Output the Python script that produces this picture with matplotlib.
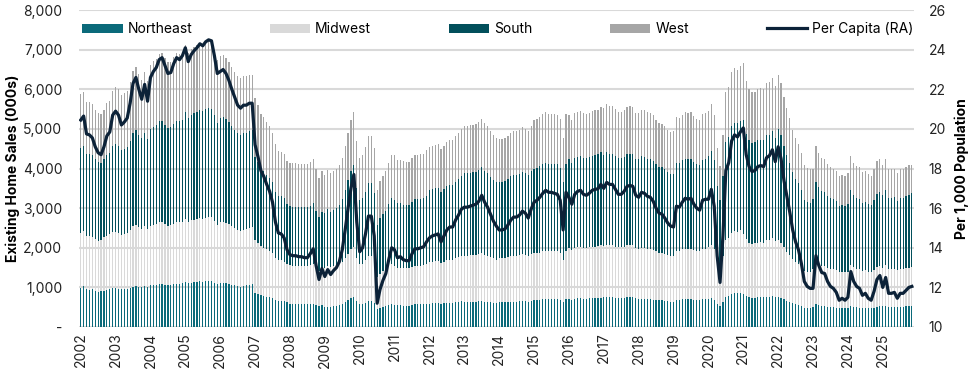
import numpy as np
import matplotlib
matplotlib.use("Agg")
import matplotlib.pyplot as plt
from matplotlib.ticker import FuncFormatter

plt.rcParams['font.family'] = ['Inter', 'DejaVu Sans']

# monthly existing home sales by region (SAAR, 000s), Jan 2002 - Nov 2025
northeast = [
    990, 1030, 950, 940, 950, 910, 880, 900, 910, 930, 950, 990,
    980, 960, 950, 960, 970, 990, 1020, 1040, 1020, 1010, 1030, 1010,
    1050, 1060, 1070, 1090, 1090, 1070, 1060, 1060, 1080, 1090, 1090, 1100,
    1140, 1110, 1120, 1130, 1140, 1150, 1140, 1150, 1160, 1160, 1120, 1080,
    1100, 1110, 1100, 1090, 1070, 1050, 1030, 1020, 1030, 1050, 1070, 1090,
    860, 830, 800, 780, 770, 750, 730, 680, 660, 660, 650, 620,
    580, 580, 580, 580, 580, 570, 570, 580, 590, 560, 530, 550,
    500, 510, 500, 520, 530, 550, 580, 630, 680, 730, 760, 650,
    580, 580, 610, 650, 650, 610, 450, 490, 510, 530, 560, 580,
    560, 550, 550, 540, 540, 540, 560, 570, 570, 570, 570, 580,
    590, 600, 600, 600, 580, 600, 610, 610, 610, 630, 640, 650,
    630, 630, 640, 640, 640, 650, 660, 640, 630, 620, 610, 600,
    620, 620, 620, 630, 640, 640, 640, 650, 660, 650, 640, 660,
    680, 680, 690, 700, 700, 700, 700, 700, 700, 680, 620, 700,
    710, 690, 710, 720, 720, 710, 710, 720, 720, 720, 730, 740,
    750, 760, 750, 750, 740, 730, 730, 740, 750, 750, 750, 730,
    700, 710, 710, 700, 700, 690, 680, 670, 670, 660, 650, 640,
    640, 690, 690, 700, 700, 700, 700, 690, 680, 680, 700, 700,
    710, 730, 690, 590, 530, 630, 770, 790, 840, 850, 850, 860,
    830, 780, 750, 740, 740, 750, 750, 750, 770, 770, 790, 760,
    760, 740, 700, 660, 630, 600, 570, 560, 530, 490, 480, 480,
    500, 570, 550, 530, 530, 510, 500, 500, 490, 470, 480, 470,
    470, 530, 510, 500, 490, 480, 480, 470, 470, 490, 510, 520,
    520, 540, 510, 510, 510, 500, 510, 510, 520, 520, 530,
]
midwest = [
    1390, 1390, 1350, 1360, 1330, 1300, 1300, 1300, 1350, 1370, 1400, 1410,
    1420, 1410, 1380, 1390, 1400, 1450, 1520, 1540, 1500, 1470, 1520, 1460,
    1490, 1510, 1520, 1550, 1550, 1530, 1500, 1510, 1530, 1550, 1550, 1560,
    1590, 1540, 1570, 1580, 1590, 1600, 1590, 1610, 1610, 1610, 1560, 1500,
    1540, 1540, 1530, 1510, 1480, 1450, 1420, 1410, 1420, 1420, 1430, 1430,
    1330, 1290, 1240, 1220, 1190, 1170, 1130, 1060, 1020, 1020, 1000, 960,
    980, 970, 970, 970, 970, 970, 970, 980, 1000, 940, 890, 930,
    1000, 1030, 1010, 1020, 1030, 1040, 1070, 1120, 1170, 1230, 1250, 1080,
    1000, 1020, 1070, 1140, 1140, 1060, 810, 860, 900, 920, 970, 1020,
    970, 950, 950, 940, 940, 940, 960, 980, 980, 980, 990, 1000,
    1050, 1050, 1060, 1060, 1030, 1050, 1080, 1090, 1090, 1110, 1130, 1150,
    1170, 1170, 1170, 1180, 1180, 1190, 1210, 1180, 1170, 1140, 1120, 1100,
    1110, 1110, 1120, 1130, 1150, 1160, 1160, 1170, 1190, 1180, 1160, 1190,
    1180, 1180, 1190, 1210, 1220, 1210, 1210, 1210, 1210, 1180, 1080, 1210,
    1280, 1250, 1290, 1300, 1310, 1290, 1290, 1300, 1310, 1310, 1320, 1330,
    1300, 1320, 1310, 1310, 1290, 1280, 1280, 1290, 1310, 1310, 1310, 1270,
    1270, 1290, 1290, 1270, 1270, 1250, 1230, 1210, 1210, 1190, 1170, 1160,
    1160, 1240, 1240, 1260, 1270, 1270, 1270, 1250, 1230, 1230, 1260, 1270,
    1310, 1350, 1280, 1080, 970, 1160, 1420, 1460, 1540, 1570, 1560, 1580,
    1530, 1430, 1380, 1360, 1370, 1380, 1390, 1380, 1420, 1420, 1450, 1400,
    1430, 1390, 1310, 1240, 1190, 1120, 1070, 1040, 990, 920, 900, 900,
    960, 1090, 1050, 1020, 1020, 990, 970, 960, 950, 910, 920, 910,
    930, 1030, 1000, 970, 970, 940, 950, 930, 920, 960, 1000, 1020,
    980, 1020, 960, 960, 960, 930, 960, 960, 970, 980, 990,
]
south = [
    2150, 2150, 2070, 2070, 2050, 2020, 1990, 1940, 1970, 2050, 2050, 2180,
    2210, 2190, 2140, 2150, 2180, 2260, 2360, 2390, 2330, 2280, 2350, 2270,
    2450, 2480, 2500, 2550, 2560, 2510, 2470, 2480, 2520, 2560, 2550, 2570,
    2710, 2630, 2670, 2690, 2710, 2730, 2720, 2740, 2750, 2740, 2660, 2560,
    2630, 2640, 2620, 2580, 2530, 2480, 2440, 2420, 2440, 2440, 2450, 2450,
    2110, 2040, 1970, 1930, 1890, 1850, 1790, 1680, 1620, 1620, 1600, 1530,
    1490, 1490, 1490, 1480, 1480, 1480, 1480, 1500, 1530, 1430, 1360, 1420,
    1390, 1430, 1400, 1420, 1450, 1490, 1570, 1700, 1850, 1980, 2070, 1790,
    1620, 1650, 1730, 1840, 1840, 1720, 1310, 1400, 1450, 1490, 1570, 1650,
    1670, 1620, 1620, 1610, 1600, 1600, 1640, 1670, 1670, 1680, 1690, 1720,
    1820, 1830, 1840, 1840, 1800, 1830, 1870, 1890, 1890, 1930, 1960, 2000,
    2080, 2080, 2090, 2100, 2100, 2120, 2160, 2110, 2080, 2030, 1990, 1960,
    1940, 1940, 1950, 1980, 2010, 2030, 2030, 2040, 2070, 2050, 2030, 2080,
    2140, 2160, 2180, 2200, 2220, 2210, 2210, 2200, 2200, 2160, 1960, 2210,
    2250, 2200, 2270, 2280, 2290, 2270, 2260, 2270, 2290, 2300, 2310, 2340,
    2290, 2330, 2320, 2320, 2290, 2250, 2250, 2270, 2310, 2320, 2310, 2250,
    2270, 2310, 2300, 2280, 2270, 2240, 2200, 2160, 2150, 2130, 2090, 2070,
    2070, 2220, 2210, 2250, 2280, 2270, 2280, 2230, 2210, 2190, 2260, 2270,
    2290, 2360, 2240, 1890, 1710, 2030, 2490, 2550, 2700, 2740, 2730, 2760,
    2860, 2670, 2580, 2550, 2550, 2580, 2590, 2580, 2650, 2660, 2700, 2620,
    2800, 2710, 2550, 2430, 2320, 2190, 2100, 2040, 1940, 1800, 1770, 1750,
    1760, 2010, 1930, 1880, 1870, 1810, 1780, 1760, 1730, 1670, 1690, 1670,
    1710, 1900, 1830, 1790, 1770, 1720, 1730, 1700, 1680, 1750, 1840, 1870,
    1830, 1910, 1790, 1790, 1800, 1750, 1790, 1790, 1810, 1840, 1860,
]
west = [
    1350, 1370, 1310, 1300, 1290, 1260, 1240, 1240, 1260, 1300, 1310, 1370,
    1450, 1450, 1390, 1400, 1410, 1480, 1570, 1590, 1530, 1480, 1550, 1470,
    1630, 1660, 1670, 1690, 1710, 1680, 1650, 1640, 1690, 1710, 1690, 1710,
    1680, 1630, 1660, 1680, 1680, 1700, 1700, 1710, 1720, 1710, 1660, 1600,
    1560, 1570, 1550, 1520, 1480, 1470, 1440, 1430, 1440, 1420, 1410, 1390,
    1480, 1440, 1380, 1370, 1330, 1310, 1260, 1190, 1140, 1130, 1120, 1080,
    1100, 1100, 1100, 1090, 1090, 1090, 1090, 1110, 1120, 1050, 990, 1040,
    960, 990, 970, 980, 980, 1000, 1040, 1120, 1210, 1280, 1350, 1170,
    1070, 1080, 1140, 1200, 1200, 1130, 890, 930, 960, 990, 1040, 1080,
    1130, 1090, 1100, 1090, 1080, 1080, 1110, 1130, 1130, 1130, 1130, 1160,
    1090, 1100, 1100, 1110, 1080, 1100, 1120, 1130, 1130, 1160, 1180, 1210,
    1190, 1190, 1190, 1190, 1200, 1210, 1230, 1220, 1190, 1170, 1130, 1110,
    1070, 1070, 1070, 1080, 1100, 1120, 1120, 1120, 1130, 1130, 1110, 1150,
    1230, 1240, 1250, 1260, 1280, 1270, 1270, 1260, 1250, 1240, 1120, 1270,
    1110, 1090, 1130, 1140, 1140, 1130, 1120, 1120, 1140, 1150, 1130, 1150,
    1190, 1210, 1210, 1210, 1190, 1170, 1170, 1180, 1190, 1200, 1190, 1160,
    1170, 1180, 1170, 1170, 1170, 1160, 1120, 1110, 1100, 1090, 1070, 1060,
    1070, 1140, 1130, 1140, 1170, 1160, 1170, 1150, 1130, 1120, 1160, 1160,
    1140, 1180, 1130, 950, 850, 1020, 1250, 1270, 1350, 1370, 1360, 1380,
    1440, 1330, 1300, 1280, 1280, 1300, 1300, 1300, 1320, 1340, 1350, 1310,
    1380, 1330, 1240, 1200, 1130, 1060, 1030, 990, 940, 890, 870, 850,
    780, 890, 860, 840, 830, 810, 790, 780, 770, 750, 750, 750,
    770, 850, 810, 800, 800, 770, 780, 760, 750, 780, 830, 840,
    750, 780, 720, 720, 730, 710, 720, 720, 730, 740, 720,
]
# sales per 1,000 population (right axis)
per_capita = [
    20.45, 20.65, 19.75, 19.7, 19.55, 19.1, 18.8, 18.7, 19.1, 19.65, 19.85, 20.7,
    20.9, 20.7, 20.2, 20.35, 20.55, 21.3, 22.3, 22.6, 22.0, 21.5, 22.25, 21.4,
    22.6, 22.9, 23.1, 23.5, 23.6, 23.2, 22.8, 22.85, 23.3, 23.6, 23.5, 23.7,
    24.1, 23.4, 23.75, 23.95, 24.1, 24.3, 24.2, 24.4, 24.5, 24.45, 23.7, 22.8,
    22.9, 23.0, 22.8, 22.45, 22.0, 21.6, 21.2, 21.05, 21.2, 21.2, 21.3, 21.3,
    19.2, 18.6, 17.9, 17.6, 17.2, 16.85, 16.3, 15.3, 14.75, 14.7, 14.5, 13.9,
    13.65, 13.6, 13.6, 13.55, 13.55, 13.5, 13.5, 13.7, 13.95, 13.1, 12.4, 12.95,
    12.55, 12.9, 12.65, 12.85, 13.0, 13.3, 13.9, 14.9, 16.0, 17.0, 17.7, 15.3,
    13.8, 14.0, 14.7, 15.6, 15.6, 14.6, 11.2, 11.9, 12.35, 12.7, 13.4, 14.0,
    13.9, 13.5, 13.55, 13.4, 13.35, 13.35, 13.7, 13.95, 13.95, 14.0, 14.05, 14.3,
    14.5, 14.6, 14.65, 14.7, 14.3, 14.6, 14.9, 15.05, 15.05, 15.4, 15.65, 15.95,
    16.05, 16.05, 16.1, 16.15, 16.2, 16.35, 16.65, 16.3, 16.05, 15.7, 15.35, 15.1,
    14.9, 14.9, 14.95, 15.15, 15.4, 15.55, 15.55, 15.65, 15.85, 15.75, 15.5, 15.95,
    16.3, 16.4, 16.55, 16.75, 16.9, 16.8, 16.8, 16.75, 16.7, 16.4, 14.9, 16.8,
    16.55, 16.2, 16.7, 16.85, 16.9, 16.7, 16.65, 16.75, 16.9, 16.95, 16.98, 17.2,
    17.0, 17.3, 17.2, 17.2, 16.95, 16.7, 16.7, 16.85, 17.1, 17.15, 17.1, 16.65,
    16.55, 16.8, 16.75, 16.6, 16.55, 16.35, 16.0, 15.75, 15.7, 15.5, 15.25, 15.1,
    15.05, 16.1, 16.05, 16.3, 16.5, 16.45, 16.5, 16.2, 16.0, 15.9, 16.4, 16.45,
    16.45, 16.95, 16.1, 13.6, 12.25, 14.6, 17.9, 18.3, 19.4, 19.7, 19.6, 19.85,
    20.05, 18.7, 18.1, 17.85, 17.9, 18.1, 18.15, 18.1, 18.55, 18.65, 18.95, 18.35,
    19.1, 18.5, 17.4, 16.6, 15.8, 14.9, 14.3, 13.9, 13.2, 12.3, 12.05, 11.95,
    11.95, 13.6, 13.1, 12.75, 12.7, 12.3, 12.05, 11.95, 11.75, 11.35, 11.45, 11.35,
    11.5, 12.8, 12.3, 12.05, 11.95, 11.6, 11.7, 11.45, 11.35, 11.8, 12.4, 12.6,
    12.0, 12.5, 11.7, 11.7, 11.75, 11.45, 11.7, 11.7, 11.85, 12.0, 12.05,
]
years = ['2002', '2003', '2004', '2005', '2006', '2007', '2008', '2009', '2010',
         '2011', '2012', '2013', '2014', '2015', '2016', '2017', '2018', '2019',
         '2020', '2021', '2022', '2023', '2024', '2025']

c_ne = '#0b6a7a'
c_mw = '#d9d9d9'
c_s = '#024f5b'
c_w = '#a6a6a6'
c_line = '#0c2238'

x = np.arange(len(northeast))
ne = np.array(northeast)
mw = np.array(midwest)
so = np.array(south)
we = np.array(west)

fig = plt.figure(figsize=(9.75, 3.75), dpi=100)
ax = fig.add_axes([0.081, 0.128, 0.856, 0.845])

w = 0.42
ax.bar(x, ne, width=w, color=c_ne, label='Northeast', linewidth=0)
ax.bar(x, mw, width=w, bottom=ne, color=c_mw, label='Midwest', linewidth=0)
ax.bar(x, so, width=w, bottom=ne + mw, color=c_s, label='South', linewidth=0)
ax.bar(x, we, width=w, bottom=ne + mw + so, color=c_w, label='West', linewidth=0)

ax.set_ylim(0, 8000)
ax.set_xlim(-0.6, len(x) - 0.4)
ax.set_yticks(np.arange(0, 8001, 1000))
ax.yaxis.set_major_formatter(FuncFormatter(lambda v, p: '-' if v == 0 else f'{v:,.0f}'))
ax.grid(axis='y', color='#d9d9d9', linewidth=1.5)
ax.set_axisbelow(True)
ax.set_xticks(np.arange(0, len(x), 12))
ax.set_xticklabels(years, rotation=90)
ax.set_ylabel('Existing Home Sales (000s)', fontsize=10, fontweight='bold', labelpad=2)
ax.tick_params(axis='both', length=0, labelsize=10, colors='#222222')
ax.tick_params(axis='y', pad=12)
ax.tick_params(axis='x', pad=4)
for s in ax.spines.values():
    s.set_visible(False)

ax2 = ax.twinx()
ax2.plot(x, per_capita, color=c_line, linewidth=2.3, label='Per Capita (RA)')
ax2.set_ylim(10, 26)
ax2.set_yticks(np.arange(10, 27, 2))
ax2.set_ylabel('Per 1,000 Population', fontsize=10, fontweight='bold', labelpad=6)
ax2.tick_params(axis='y', length=0, labelsize=10, colors='#222222', pad=11)
for s in ax2.spines.values():
    s.set_visible(False)

h1, l1 = ax.get_legend_handles_labels()
h2, l2 = ax2.get_legend_handles_labels()
ax2.legend(h1 + h2, l1 + l2, loc='center left', bbox_to_anchor=(0.004, 0.94),
           ncol=5, frameon=False, fontsize=10, handlelength=2.9, handleheight=0.6,
           handletextpad=0.35, columnspacing=5.6, borderaxespad=0, borderpad=0)

fig.savefig('out.png', dpi=100)
